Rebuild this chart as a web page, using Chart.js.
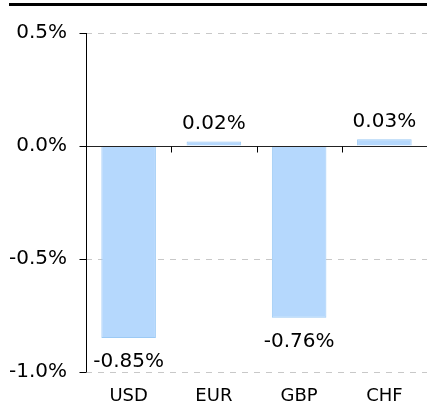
<!DOCTYPE html>
<html><head><meta charset="utf-8">
<script src="https://cdn.jsdelivr.net/npm/chart.js@4/dist/chart.umd.min.js"></script>
<style>html,body{margin:0;padding:0;background:#fff;}#wrap{width:427px;height:412px;}</style>
</head><body><div id="wrap"><canvas id="c" width="427" height="412"></canvas></div>
<script>
const categories = ["USD", "EUR", "GBP", "CHF"];
const values = [-0.85, 0.02, -0.76, 0.03];
const yTicks = [0.5, 0.0, -0.5, -1.0];

const FONT = "'DejaVu Sans', sans-serif";

const extras = {
  id: 'extras',
  afterDraw(chart) {
    const ctx = chart.ctx;
    const x = chart.scales.x, y = chart.scales.y;
    const ca = chart.chartArea;
    ctx.save();
    // top rule
    ctx.fillStyle = '#000';
    ctx.fillRect(9, 3, 418, 3);
    // zero line
    const y0 = Math.round(y.getPixelForValue(0)) + 0.5;
    ctx.strokeStyle = '#222';
    ctx.lineWidth = 1;
    ctx.beginPath(); ctx.moveTo(ca.left, y0); ctx.lineTo(ca.right, y0); ctx.stroke();
    // category boundary ticks on zero line
    ctx.strokeStyle = '#000';
    for (let i = 1; i < categories.length; i++) {
      const px = Math.round((x.getPixelForValue(i - 1) + x.getPixelForValue(i)) / 2) + 0.5;
      ctx.beginPath(); ctx.moveTo(px, y0); ctx.lineTo(px, y0 + 6); ctx.stroke();
    }
    // y axis line
    const ax = Math.round(ca.left) + 0.5;
    ctx.beginPath(); ctx.moveTo(ax, y.getPixelForValue(0.5)); ctx.lineTo(ax, y.getPixelForValue(-1.0)); ctx.stroke();
    // y ticks
    yTicks.forEach(v => {
      const py = Math.round(y.getPixelForValue(v)) + 0.5;
      ctx.beginPath(); ctx.moveTo(ax - 7, py); ctx.lineTo(ax, py); ctx.stroke();
    });
    // value labels
    ctx.fillStyle = '#000';
    ctx.font = '20px ' + FONT;
    ctx.textAlign = 'center';
    ctx.textBaseline = 'alphabetic';
    const meta = chart.getDatasetMeta(0);
    meta.data.forEach((bar, i) => {
      const v = values[i];
      const txt = v.toFixed(2) + '%';
      if (v >= 0) {
        ctx.fillText(txt, bar.x, bar.y - 12);
      } else {
        ctx.fillText(txt, bar.x, bar.y + 29);
      }
    });
    ctx.restore();
  }
};

new Chart(document.getElementById('c'), {
  type: 'bar',
  data: {
    labels: categories,
    datasets: [{
      data: values,
      backgroundColor: '#b5d8fd',
      borderColor: '#9ccaf5',
      borderWidth: 1,
      categoryPercentage: 0.64,
      barPercentage: 1.0
    }]
  },
  options: {
    responsive: false,
    animation: false,
    layout: { padding: { left: 0, right: 0, top: 33, bottom: 0 } },
    plugins: { legend: { display: false }, tooltip: { enabled: false } },
    scales: {
      x: {
        afterFit(s) { s.height = 40; },
        grid: { display: false },
        border: { display: false },
        ticks: { color: '#000', font: { family: FONT, size: 18 }, padding: 6 }
      },
      y: {
        min: -1.0, max: 0.5,
        afterFit(s) { s.width = 86; },
        afterBuildTicks(s) { s.ticks = yTicks.map(v => ({ value: v })); },
        grid: {
          color: c => c.tick && c.tick.value === 0 ? 'rgba(0,0,0,0)' : '#c8c8c8',
          drawTicks: false,
          lineWidth: 1
        },
        border: { display: false, dash: [6, 6] },
        ticks: {
          color: '#000', font: { family: FONT, size: 20 }, padding: 19,
          callback: v => v.toFixed(1) + '%'
        }
      }
    }
  },
  plugins: [extras]
});
</script></body></html>
